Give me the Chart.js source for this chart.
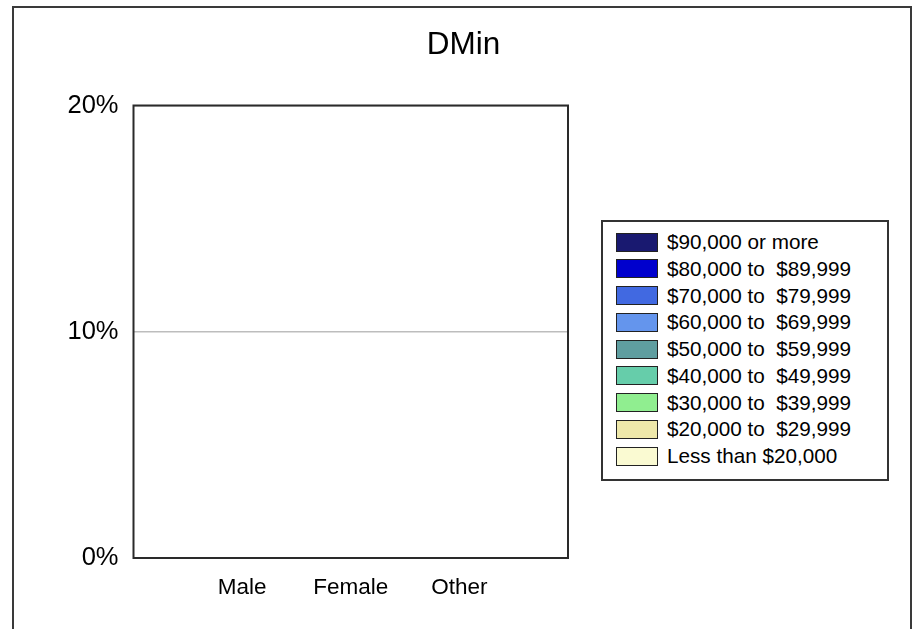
<!DOCTYPE html>
<html>
<head>
<meta charset="utf-8">
<title>DMin</title>
<script src="https://cdn.jsdelivr.net/npm/chart.js@4.4.1/dist/chart.umd.min.js"></script>
<style>
	body {
		margin: 0;
		background: #fff;
		font-family: 'Liberation Sans', Arial, sans-serif;
	}
	#wrap {
		position: absolute;
		left: 0;
		top: 0;
		width: 919px;
		height: 629px;
	}
	#frame {
		position: absolute;
		left: 12px;
		top: 6px;
		width: 900px;
		height: 700px;
		border: 2px solid #3a3a3a;
		box-sizing: border-box;
		pointer-events: none;
	}
	#legend {
		position: absolute;
		left: 601px;
		top: 220px;
		width: 288px;
		height: 261px;
		border: 2px solid #333;
		box-sizing: border-box;
		background: #fff;
	}
	#legend .row {
		position: absolute;
		left: 13px;
		height: 19px;
		display: flex;
		align-items: center;
	}
	#legend .swatch {
		width: 42px;
		height: 19px;
		box-sizing: border-box;
		border: 1px solid #222;
	}
	#legend .label {
		margin-left: 9px;
		font-size: 20.7px;
		color: #000;
		white-space: pre;
	}
</style>
</head>
<body>
<div id="wrap">
	<canvas id="dmin-chart"></canvas>
</div>
<div id="legend"></div>
<div id="frame"></div>
<script>
const categories = ['Male', 'Female', 'Other'];
const yTicks = [0, 10, 20];

// income groups, lowest first (bottom of the stack)
const incomeGroups = [
	'Less than $20,000',
	'$20,000 to  $29,999',
	'$30,000 to  $39,999',
	'$40,000 to  $49,999',
	'$50,000 to  $59,999',
	'$60,000 to  $69,999',
	'$70,000 to  $79,999',
	'$80,000 to  $89,999',
	'$90,000 or more',
];
const groupColors = [
	'#FAFAD2',
	'#EEE8AA',
	'#90EE90',
	'#66CDAA',
	'#5F9EA0',
	'#6495ED',
	'#4169E1',
	'#0000CD',
	'#191970',
];

// percent of each gender, all empty in this chart
const lessThan20k = [0, 0, 0];
const from20kTo30k = [0, 0, 0];
const from30kTo40k = [0, 0, 0];
const from40kTo50k = [0, 0, 0];
const from50kTo60k = [0, 0, 0];
const from60kTo70k = [0, 0, 0];
const from70kTo80k = [0, 0, 0];
const from80kTo90k = [0, 0, 0];
const over90k = [0, 0, 0];

const seriesValues = [
	lessThan20k, from20kTo30k, from30kTo40k, from40kTo50k, from50kTo60k,
	from60kTo70k, from70kTo80k, from80kTo90k, over90k,
];

const fontFamily = "'Liberation Sans', Arial, sans-serif";

const plotFrame = {
	id: 'plotFrame',
	afterDatasetsDraw(chart) {
		const { ctx, chartArea } = chart;
		ctx.save();
		ctx.strokeStyle = '#2a2a2a';
		ctx.lineWidth = 2;
		ctx.strokeRect(chartArea.left, chartArea.top, chartArea.right - chartArea.left, chartArea.bottom - chartArea.top);
		ctx.restore();
	},
};

document.addEventListener('DOMContentLoaded', () => {
	dminChart();
});

function dminChart() {
	const ctx = document.getElementById('dmin-chart');

	if (!ctx) {
		return;
	}

	// empty slots at both ends so the three groups sit at quarters of the axis
	const labels = ['', ...categories, ''];

	const chart = new Chart(ctx, {
		type: 'bar',
		data: {
			labels: labels,
			datasets: incomeGroups.map((name, i) => ({
				label: name,
				data: [null, ...seriesValues[i], null],
				backgroundColor: groupColors[i],
				borderColor: '#222',
				borderWidth: 0,
			})),
		},
		options: {
			responsive: true,
			maintainAspectRatio: false,
			animation: false,
			layout: {
				padding: { left: 14, right: 6, top: 0, bottom: 0 },
			},
			plugins: {
				legend: {
					display: false,
				},
				tooltip: {
					enabled: false,
				},
				title: {
					display: true,
					text: 'DMin',
					color: '#000',
					font: { family: fontFamily, size: 31.5, weight: 'normal' },
					padding: { top: 26, bottom: 41.7 },
				},
			},
			scales: {
				x: {
					stacked: true,
					offset: false,
					grid: { display: false },
					border: { display: false },
					ticks: {
						autoSkip: false,
						maxRotation: 0,
						padding: 8,
						color: '#000',
						font: { family: fontFamily, size: 22.5 },
					},
					afterFit(scale) {
						scale.height = 71;
					},
				},
				y: {
					stacked: true,
					min: yTicks[0],
					max: yTicks[yTicks.length - 1],
					afterBuildTicks(scale) {
						scale.ticks = yTicks.map((v) => ({ value: v }));
					},
					grid: {
						color: '#bdbdbd',
						lineWidth: 1.5,
						drawTicks: false,
					},
					border: { display: false },
					ticks: {
						padding: 15,
						color: '#000',
						font: { family: fontFamily, size: 25.5 },
						callback: (v) => v + '%',
					},
					afterFit(scale) {
						scale.width = 119.5;
					},
				},
				// blank axis that keeps the room for the legend box on the right
				legendRoom: {
					type: 'linear',
					position: 'right',
					grid: { display: false },
					border: { display: false },
					ticks: { display: false },
					afterFit(scale) {
						scale.width = 345;
					},
				},
			},
		},
		plugins: [plotFrame],
	});

	buildLegend(chart);
}

function buildLegend(chart) {
	const box = document.getElementById('legend');
	const items = Chart.defaults.plugins.legend.labels.generateLabels(chart).reverse();

	items.forEach((item, i) => {
		const row = document.createElement('div');
		row.className = 'row';
		row.style.top = (10.5 + i * 26.75) + 'px';

		const swatch = document.createElement('span');
		swatch.className = 'swatch';
		swatch.style.background = item.fillStyle;

		const text = document.createElement('span');
		text.className = 'label';
		text.textContent = item.text;

		row.appendChild(swatch);
		row.appendChild(text);
		box.appendChild(row);
	});
}
</script>
</body>
</html>
